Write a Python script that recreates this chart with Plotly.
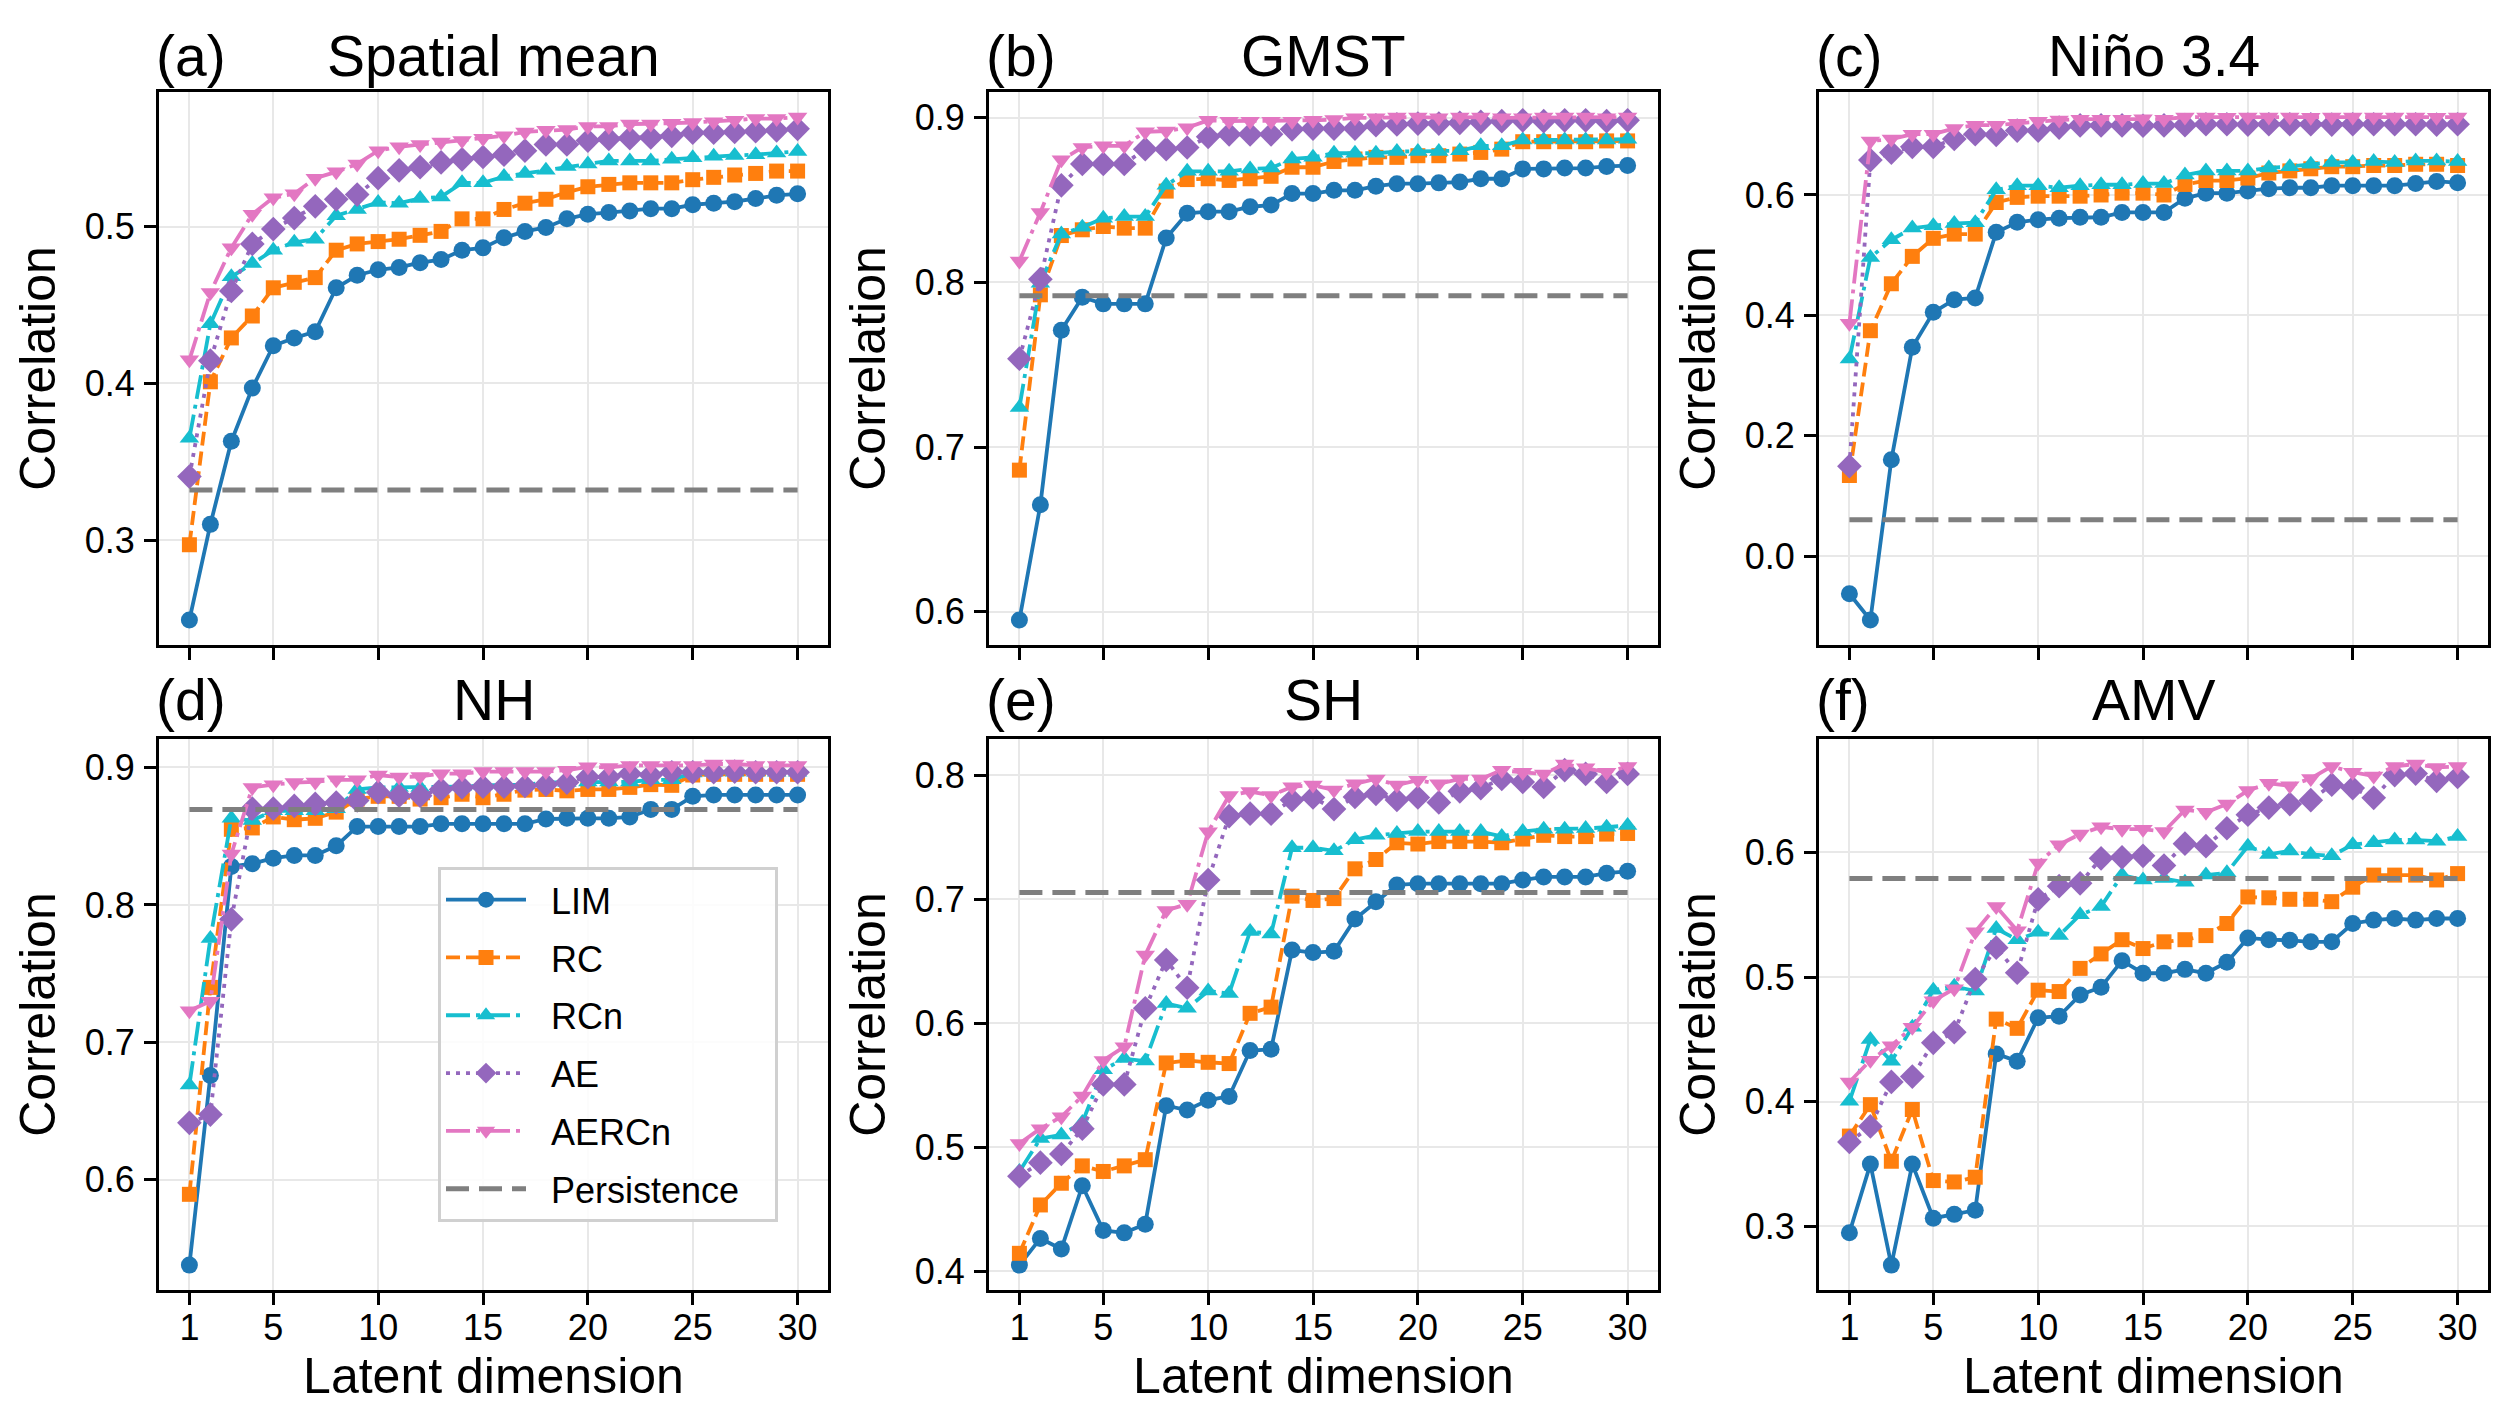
import plotly.graph_objects as go

# ---------------- data ----------------
dims = list(range(1, 31))
x_tick_vals = [1, 5, 10, 15, 20, 25, 30]
panel_labels = ["(a)", "(b)", "(c)", "(d)", "(e)", "(f)"]
panel_titles = ["Spatial mean", "GMST", "Niño 3.4", "NH", "SH", "AMV"]
method_names = ["LIM", "RC", "RCn", "AE", "AERCn"]
persistence_name = "Persistence"

# (a) Spatial mean
lim_a = [0.249, 0.310, 0.363, 0.397, 0.424, 0.429, 0.433, 0.461, 0.469, 0.4725,
         0.474, 0.477, 0.479, 0.485, 0.4865, 0.493, 0.497, 0.4995, 0.505, 0.508,
         0.509, 0.510, 0.5115, 0.5115, 0.514, 0.515, 0.516, 0.518, 0.520, 0.521]
rc_a = [0.297, 0.401, 0.429, 0.443, 0.461, 0.4645, 0.4675, 0.485, 0.489, 0.4905,
        0.492, 0.4945, 0.497, 0.505, 0.505, 0.511, 0.515, 0.5175, 0.522, 0.5255,
        0.527, 0.528, 0.528, 0.528, 0.530, 0.5315, 0.533, 0.534, 0.5355, 0.5355]
rcn_a = [0.365, 0.438, 0.468, 0.4765, 0.485, 0.490, 0.492, 0.507, 0.511, 0.5155,
         0.515, 0.518, 0.519, 0.528, 0.528, 0.532, 0.534, 0.536, 0.5385, 0.540,
         0.542, 0.542, 0.542, 0.543, 0.544, 0.545, 0.5455, 0.546, 0.547, 0.548]
ae_a = [0.3405, 0.4145, 0.459, 0.489, 0.4985, 0.5055, 0.513, 0.5175, 0.5205, 0.531,
        0.536, 0.538, 0.541, 0.543, 0.5445, 0.546, 0.5485, 0.5525, 0.5525, 0.555,
        0.556, 0.5565, 0.557, 0.558, 0.560, 0.560, 0.5605, 0.561, 0.5615, 0.5625]
aercn_a = [0.415, 0.458, 0.4865, 0.508, 0.5185, 0.521, 0.531, 0.535, 0.540, 0.5485,
           0.551, 0.5525, 0.554, 0.555, 0.5565, 0.558, 0.5605, 0.5615, 0.562, 0.564,
           0.564, 0.5655, 0.5655, 0.566, 0.5665, 0.567, 0.568, 0.569, 0.569, 0.570]

# (b) GMST
lim_b = [0.595, 0.665, 0.771, 0.791, 0.787, 0.787, 0.787, 0.827, 0.842, 0.843,
         0.843, 0.846, 0.847, 0.854, 0.854, 0.856, 0.856, 0.8585, 0.860, 0.860,
         0.8605, 0.861, 0.863, 0.863, 0.869, 0.869, 0.8695, 0.8695, 0.8705, 0.871]
rc_b = [0.686, 0.7925, 0.8285, 0.832, 0.834, 0.833, 0.833, 0.8555, 0.8625, 0.863,
        0.862, 0.863, 0.8645, 0.870, 0.870, 0.8735, 0.875, 0.876, 0.876, 0.877,
        0.877, 0.878, 0.879, 0.881, 0.8855, 0.8855, 0.8855, 0.8855, 0.886, 0.886]
rcn_b = [0.724, 0.7995, 0.8295, 0.8335, 0.839, 0.840, 0.840, 0.859, 0.8675, 0.8675,
         0.8675, 0.869, 0.8695, 0.875, 0.876, 0.8785, 0.8785, 0.8785, 0.8795, 0.8795,
         0.8795, 0.880, 0.883, 0.883, 0.8865, 0.8865, 0.8865, 0.8865, 0.8865, 0.887]
ae_b = [0.7537, 0.802, 0.859, 0.872, 0.872, 0.872, 0.881, 0.881, 0.882, 0.8885,
        0.890, 0.890, 0.890, 0.893, 0.8935, 0.8935, 0.8935, 0.8955, 0.896, 0.8965,
        0.8965, 0.897, 0.8975, 0.898, 0.8985, 0.898, 0.8985, 0.8985, 0.898, 0.8985]
aercn_b = [0.813, 0.8425, 0.8745, 0.882, 0.883, 0.883, 0.8915, 0.892, 0.894, 0.8985,
           0.898, 0.898, 0.898, 0.898, 0.8985, 0.899, 0.900, 0.900, 0.9005, 0.9005,
           0.900, 0.9005, 0.9005, 0.900, 0.900, 0.9005, 0.9005, 0.9005, 0.900, 0.9005]

# (c) Nino 3.4
lim_c = [-0.0625, -0.106, 0.160, 0.347, 0.405, 0.426, 0.429, 0.538, 0.5545, 0.559,
         0.5615, 0.563, 0.563, 0.571, 0.571, 0.571, 0.5945, 0.603, 0.603, 0.6065,
         0.6105, 0.612, 0.612, 0.6155, 0.6155, 0.6155, 0.6155, 0.619, 0.6225, 0.6205]
rc_c = [0.134, 0.3745, 0.4525, 0.498, 0.528, 0.535, 0.535, 0.5875, 0.596, 0.598,
        0.598, 0.598, 0.600, 0.603, 0.603, 0.600, 0.6175, 0.624, 0.624, 0.628,
        0.6365, 0.640, 0.6435, 0.647, 0.647, 0.649, 0.649, 0.651, 0.651, 0.649]
rcn_c = [0.3275, 0.496, 0.5255, 0.545, 0.549, 0.5525, 0.554, 0.6085, 0.6155, 0.6155,
         0.612, 0.6155, 0.617, 0.617, 0.619, 0.619, 0.633, 0.640, 0.640, 0.640,
         0.645, 0.647, 0.651, 0.654, 0.654, 0.6555, 0.654, 0.6565, 0.6565, 0.6555]
ae_c = [0.1495, 0.658, 0.6705, 0.680, 0.680, 0.693, 0.701, 0.700, 0.707, 0.707,
        0.712, 0.7155, 0.7155, 0.7155, 0.715, 0.7155, 0.716, 0.7175, 0.7175, 0.717,
        0.7175, 0.7175, 0.7175, 0.717, 0.7175, 0.7175, 0.7175, 0.7175, 0.717, 0.7175]
aercn_c = [0.387, 0.6895, 0.693, 0.701, 0.701, 0.7105, 0.716, 0.716, 0.719, 0.7225,
           0.7245, 0.726, 0.726, 0.726, 0.7265, 0.726, 0.7295, 0.7295, 0.729, 0.7295,
           0.7295, 0.7295, 0.729, 0.7295, 0.7295, 0.7295, 0.7295, 0.7295, 0.729, 0.7295]

# (d) NH
lim_d = [0.538, 0.676, 0.828, 0.830, 0.834, 0.836, 0.836, 0.843, 0.857, 0.857,
         0.857, 0.857, 0.859, 0.859, 0.859, 0.859, 0.859, 0.8625, 0.863, 0.863,
         0.863, 0.864, 0.8695, 0.8695, 0.879, 0.880, 0.880, 0.880, 0.880, 0.880]
rc_d = [0.5895, 0.740, 0.855, 0.856, 0.864, 0.862, 0.863, 0.8675, 0.877, 0.879,
        0.879, 0.877, 0.878, 0.8805, 0.878, 0.8805, 0.8835, 0.884, 0.883, 0.884,
        0.884, 0.8855, 0.8875, 0.887, 0.8945, 0.895, 0.895, 0.895, 0.895, 0.895]
rcn_d = [0.669, 0.7755, 0.863, 0.8615, 0.8685, 0.8685, 0.8685, 0.870, 0.884, 0.8855,
         0.8855, 0.8855, 0.886, 0.886, 0.887, 0.8875, 0.8875, 0.889, 0.889, 0.8895,
         0.8895, 0.8895, 0.891, 0.891, 0.896, 0.8965, 0.8965, 0.8965, 0.8965, 0.8965]
ae_d = [0.6415, 0.6475, 0.7895, 0.870, 0.870, 0.872, 0.8735, 0.8745, 0.876, 0.882,
        0.8795, 0.8795, 0.884, 0.8855, 0.886, 0.886, 0.8865, 0.8875, 0.889, 0.893,
        0.893, 0.8955, 0.8945, 0.8965, 0.8965, 0.8965, 0.897, 0.8965, 0.8965, 0.8965]
aercn_d = [0.723, 0.730, 0.837, 0.8855, 0.8875, 0.889, 0.8895, 0.891, 0.891, 0.8945,
           0.893, 0.8935, 0.8955, 0.8955, 0.897, 0.897, 0.897, 0.897, 0.898, 0.9005,
           0.900, 0.9015, 0.9015, 0.9015, 0.9015, 0.9025, 0.9025, 0.9015, 0.9015, 0.9015]

# (e) SH
lim_e = [0.405, 0.4265, 0.418, 0.469, 0.433, 0.431, 0.438, 0.5335, 0.530, 0.538,
         0.541, 0.578, 0.579, 0.659, 0.657, 0.658, 0.684, 0.698, 0.7115, 0.7125,
         0.7125, 0.7125, 0.7125, 0.7125, 0.7155, 0.718, 0.718, 0.718, 0.721, 0.7225]
rc_e = [0.4145, 0.4535, 0.471, 0.485, 0.4805, 0.485, 0.490, 0.568, 0.570, 0.5685,
        0.5675, 0.608, 0.613, 0.7025, 0.699, 0.7005, 0.7245, 0.732, 0.7455, 0.7445,
        0.7465, 0.7465, 0.7465, 0.7455, 0.7485, 0.7515, 0.7505, 0.7505, 0.7525, 0.753]
rcn_e = [0.4805, 0.507, 0.510, 0.520, 0.5625, 0.5715, 0.5695, 0.616, 0.612, 0.626,
         0.624, 0.674, 0.672, 0.7415, 0.7415, 0.739, 0.748, 0.7515, 0.753, 0.7545,
         0.7545, 0.7545, 0.7545, 0.7505, 0.7545, 0.7565, 0.7565, 0.757, 0.758, 0.7595]
ae_e = [0.4767, 0.4876, 0.4946, 0.515, 0.5507, 0.5507, 0.612, 0.651, 0.6286, 0.7155,
        0.767, 0.769, 0.769, 0.780, 0.782, 0.7727, 0.7825, 0.785, 0.780, 0.782,
        0.778, 0.787, 0.7895, 0.797, 0.7945, 0.7905, 0.804, 0.801, 0.7945, 0.801]
aercn_e = [0.503, 0.515, 0.5246, 0.5414, 0.570, 0.581, 0.655, 0.691, 0.696, 0.7544,
           0.7836, 0.7868, 0.7836, 0.7906, 0.792, 0.788, 0.793, 0.797, 0.792, 0.796,
           0.793, 0.797, 0.797, 0.804, 0.8023, 0.801, 0.809, 0.806, 0.8023, 0.807]

# (f) AMV
lim_f = [0.295, 0.350, 0.269, 0.350, 0.3066, 0.3097, 0.313, 0.4384, 0.4326, 0.4674,
         0.4686, 0.4857, 0.4919, 0.5132, 0.5031, 0.5031, 0.5062, 0.5031, 0.512, 0.5314,
         0.530, 0.5295, 0.5283, 0.5283, 0.543, 0.5457, 0.547, 0.5457, 0.547, 0.547]
rc_f = [0.3725, 0.3977, 0.3523, 0.3938, 0.3368, 0.3357, 0.3395, 0.4663, 0.4589, 0.4895,
        0.4884, 0.507, 0.5186, 0.530, 0.5229, 0.5283, 0.530, 0.5333, 0.543, 0.5643,
        0.5636, 0.5624, 0.5624, 0.5605, 0.5721, 0.5818, 0.5818, 0.5818, 0.5779, 0.583]
rcn_f = [0.4004, 0.450, 0.4326, 0.4597, 0.4895, 0.4926, 0.4888, 0.539, 0.530, 0.536,
         0.5333, 0.550, 0.5566, 0.5818, 0.5779, 0.579, 0.576, 0.5818, 0.5837, 0.605,
         0.5984, 0.6012, 0.5984, 0.5973, 0.6062, 0.6078, 0.610, 0.610, 0.609, 0.6128]
ae_f = [0.3678, 0.3802, 0.4159, 0.4202, 0.4473, 0.4558, 0.4984, 0.5236, 0.5035, 0.5624,
        0.5729, 0.5752, 0.5953, 0.5961, 0.5973, 0.5895, 0.607, 0.605, 0.6194, 0.6302,
        0.636, 0.6388, 0.6419, 0.6543, 0.6516, 0.6438, 0.662, 0.6632, 0.6574, 0.6605]
aercn_f = [0.4159, 0.4333, 0.445, 0.4597, 0.481, 0.4907, 0.5364, 0.5566, 0.5372, 0.5915,
           0.6062, 0.6147, 0.6205, 0.6186, 0.6186, 0.6167, 0.6341, 0.6322, 0.6388, 0.6496,
           0.6554, 0.6535, 0.6593, 0.669, 0.6643, 0.6612, 0.669, 0.6709, 0.6682, 0.669]

persistence = [0.332, 0.792, 0.0604, 0.8695, 0.7054, 0.579]
y_dticks = [0.1, 0.1, 0.2, 0.1, 0.1, 0.1]

panel_series = [
    [lim_a, rc_a, rcn_a, ae_a, aercn_a],
    [lim_b, rc_b, rcn_b, ae_b, aercn_b],
    [lim_c, rc_c, rcn_c, ae_c, aercn_c],
    [lim_d, rc_d, rcn_d, ae_d, aercn_d],
    [lim_e, rc_e, rcn_e, ae_e, aercn_e],
    [lim_f, rc_f, rcn_f, ae_f, aercn_f],
]

# ---------------- style ----------------
# the page body has an 8px margin, so the figure is drawn 8px in from the corner
OFF = 8
W, H = 2509 - 2 * OFF, 1418 - 2 * OFF
FONT = "Liberation Sans, Arial, Helvetica, sans-serif"
colors = ["#1f77b4", "#ff7f0e", "#17becf", "#9467bd", "#e377c2"]
pers_color = "#7f7f7f"
symbols = ["circle", "square", "triangle-up", "diamond", "triangle-down"]
msizes = [17, 15, 17, 19, 17]
dashes = ["solid", "14px,6px", "24px,6px,4px,6px", "4px,6px", "24px,6px,4px,6px"]
LW = 3.8
NBSP = "\u00a0\u00a0"

col_left = [159 - OFF, 989 - OFF, 1819 - OFF]
col_w = 669
row_top = [92 - OFF, 740 - OFF]
row_bot = [646 - OFF, 1292 - OFF]
title_mid = [56 - OFF, 701 - OFF]

fig = go.Figure()
annotations = []

for k in range(6):
    r, c = divmod(k, 3)
    i = k + 1
    xa = "x" if i == 1 else f"x{i}"
    ya = "y" if i == 1 else f"y{i}"
    series = panel_series[k]
    for m in range(5):
        fig.add_trace(go.Scatter(
            x=dims, y=series[m], xaxis=xa, yaxis=ya,
            mode="lines+markers", name=NBSP + method_names[m],
            legendgroup=method_names[m], showlegend=(k == 0),
            line=dict(color=colors[m], width=LW, dash=dashes[m]),
            marker=dict(symbol=symbols[m], size=msizes[m], color=colors[m],
                        line=dict(width=0)),
        ))
    fig.add_trace(go.Scatter(
        x=[dims[0], dims[-1]], y=[persistence[k], persistence[k]],
        xaxis=xa, yaxis=ya, mode="lines",
        name=NBSP + persistence_name + NBSP + "\u00a0",
        legendgroup=persistence_name, showlegend=(k == 0),
        line=dict(color=pers_color, width=5, dash="23px,10px"),
    ))

    allv = [v for s in series for v in s] + [persistence[k]]
    lo, hi = min(allv), max(allv)
    pad = 0.05 * (hi - lo)

    x0 = col_left[c] / W
    x1 = (col_left[c] + col_w) / W
    y0 = 1 - row_bot[r] / H
    y1 = 1 - row_top[r] / H

    xkey = "xaxis" if i == 1 else f"xaxis{i}"
    ykey = "yaxis" if i == 1 else f"yaxis{i}"
    xaxis = dict(
        domain=[x0, x1], anchor=ya, range=[1 - 0.05 * 29, 30 + 0.05 * 29],
        tickmode="array", tickvals=x_tick_vals,
        showticklabels=(r == 1),
        ticks="outside", ticklen=12, tickwidth=3, tickcolor="black",
        ticklabelstandoff=-8,
        showline=True, linecolor="black", linewidth=3, mirror=True,
        showgrid=True, gridcolor="#e8e8e8", gridwidth=2,
        zeroline=False,
        tickfont=dict(family=FONT, size=36, color="black"),
    )
    if r == 1:
        xaxis["title"] = dict(text="Latent dimension", standoff=6,
                              font=dict(family=FONT, size=50, color="black"))
    yaxis = dict(
        domain=[y0, y1], anchor=xa, range=[lo - pad, hi + pad],
        tick0=0, dtick=y_dticks[k], tickformat=".1f",
        ticks="outside", ticklen=12, tickwidth=3, tickcolor="black",
        ticklabelstandoff=2,
        showline=True, linecolor="black", linewidth=3, mirror=True,
        showgrid=True, gridcolor="#e8e8e8", gridwidth=2,
        zeroline=False,
        tickfont=dict(family=FONT, size=36, color="black"),
        title=dict(text="Correlation", standoff=14,
                   font=dict(family=FONT, size=50, color="black")),
    )
    fig.layout[xkey] = xaxis
    fig.layout[ykey] = yaxis

    annotations.append(dict(
        text=panel_labels[k], xref="paper", yref="paper",
        x=(col_left[c] - 5) / W, y=1 - title_mid[r] / H,
        xanchor="left", yanchor="middle", showarrow=False,
        font=dict(family=FONT, size=57, color="black"),
    ))
    annotations.append(dict(
        text=panel_titles[k], xref="paper", yref="paper",
        x=(col_left[c] + col_w / 2) / W, y=1 - title_mid[r] / H,
        xanchor="center", yanchor="middle", showarrow=False,
        font=dict(family=FONT, size=57, color="black"),
    ))

fig.update_layout(
    width=W, height=H,
    margin=dict(l=0, r=0, t=0, b=0),
    paper_bgcolor="white", plot_bgcolor="white",
    annotations=annotations,
    showlegend=True,
    legend=dict(
        x=(438 - OFF) / W, y=1 - (868 - OFF) / H, xanchor="left", yanchor="top",
        xref="paper", yref="paper",
        bgcolor="rgba(255,255,255,0.85)", bordercolor="#d0d0d0", borderwidth=3,
        font=dict(family=FONT, size=36, color="black"),
        itemwidth=80, traceorder="grouped", tracegroupgap=8,
    ),
    font=dict(family=FONT, color="black"),
)

fig.write_html("out.html")
